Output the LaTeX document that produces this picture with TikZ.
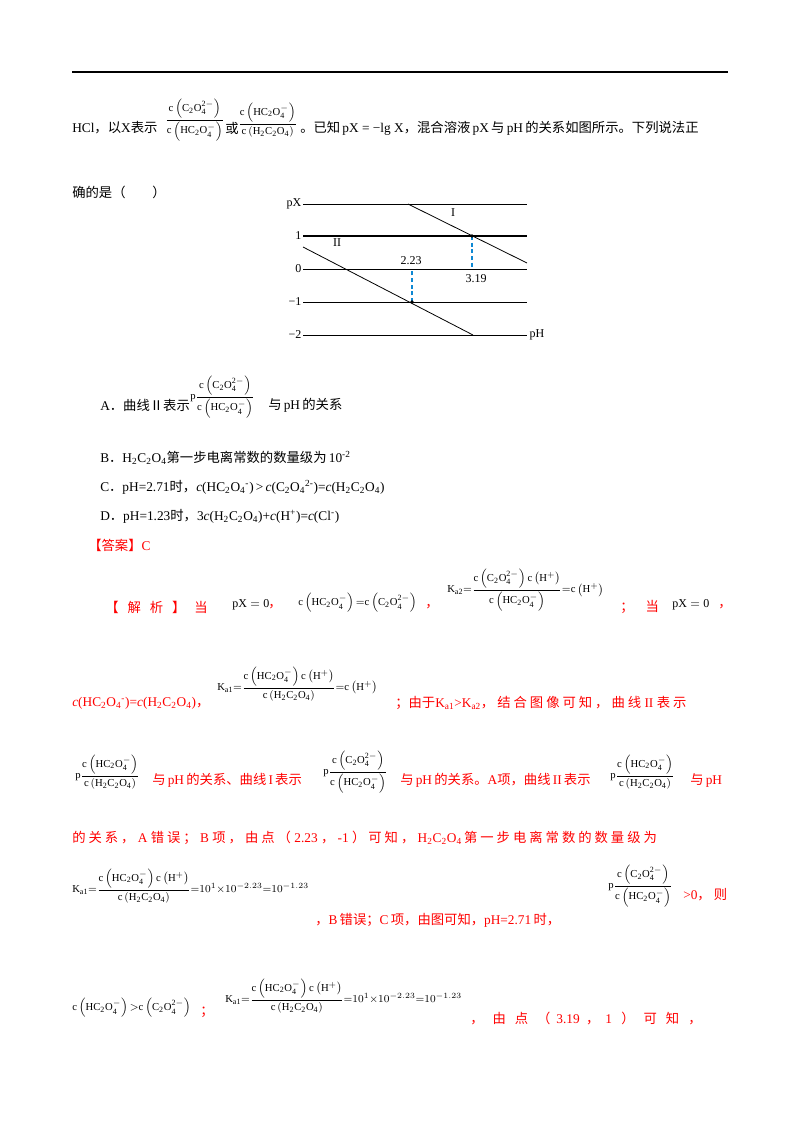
\documentclass[tikz,border=0pt]{standalone}
\usepackage{amsmath}
\usepackage{fontspec}
\setmainfont{Liberation Serif}
\newfontfamily\cjk{Noto Sans CJK SC}
\newcommand\fr[2]{$\dfrac{\mathrm{c}\left(\mathrm{#1}\right)}{\mathrm{c}\left(\mathrm{#2}\right)}$}
\newcommand\pfr[2]{$\mathrm{p}\dfrac{\mathrm{c}\left(\mathrm{#1}\right)}{\mathrm{c}\left(\mathrm{#2}\right)}$}
\newcommand\Kaone{$\mathrm{K_{a1}}{=}\dfrac{\mathrm{c}\left(\mathrm{HC_2O_4^-}\right)\mathrm{c}\left(\mathrm{H^+}\right)}{\mathrm{c}\left(\mathrm{H_2C_2O_4}\right)}$}
\begin{document}
\begin{tikzpicture}[x=0.75pt,y=-0.75pt,
  t/.style={anchor=west,inner sep=0pt,font=\fontsize{10}{12}\selectfont},
  f/.style={anchor=west,inner sep=0pt,font=\fontsize{8}{9}\selectfont},
  r/.style={t,text=red},
  ax/.style={line width=0.6pt},
  gl/.style={anchor=east,inner sep=1pt,font=\fontsize{9}{10}\selectfont},
  dsh/.style={cyan!70!blue,densely dashed,line width=0.8pt}]
\useasboundingbox (0,0) rectangle (800,1132);
\fill[white] (0,0) rectangle (800,1132);
\draw[line width=1pt] (72,72) -- (728,72);
% line 1
\node[t] (l1a) at (72,128) {HCl{\cjk ，以}X{\cjk 表示}};
\node[f] (l1b) at (165,120) {\fr{C_2O_4^{2-}}{HC_2O_4^-}};
\node[t] (l1c) at (225,128) {\cjk 或};
\node[f] (l1d) at (238,120) {\fr{HC_2O_4^-}{H_2C_2O_4}};
\node[t] (l1e) at (300,128) {{\cjk 。已知}\,pX = −lg X{\cjk ，混合溶液}\,pX\,{\cjk 与}\,pH\,{\cjk 的关系如图所示。下列说法正}};
\node[t] (l2) at (72,192) {\cjk 确的是（　　）};
% graph
\foreach \yy/\lab in {204/pX,236/1,269/0,302/−1,335/−2}{
  \draw[ax] (303,\yy) -- (527,\yy);
  \node[gl] at (303,\yy) {\lab};}
\draw[line width=1.2pt] (303,236) -- (527,236);
\node[anchor=west,inner sep=1pt,font=\fontsize{9}{10}\selectfont] (pH) at (528,335) {pH};
\coordinate (i1) at (408,204); \coordinate (i2) at (527,263);
\coordinate (ii1) at (303,247); \coordinate (ii2) at (473,335);
\draw[ax] (i1) -- (i2); \draw[ax] (ii1) -- (ii2);
\coordinate (p1) at (472,236); \coordinate (p2) at (412,302);
\coordinate (q1) at (472,269); \coordinate (q2) at (412,269);
\draw[dsh] (p1) -- (q1); \draw[dsh] (p2) -- (q2);
\fill (p1) circle (1.8); \fill (p2) circle (1.8);
\node[font=\fontsize{9}{10}\selectfont] at (411,261) {2.23};
\node[font=\fontsize{9}{10}\selectfont] at (476,279) {3.19};
\node[font=\fontsize{9}{10}\selectfont] at (453,213) {I};
\node[font=\fontsize{9}{10}\selectfont] at (337,243) {II};
% options
\node[t] (oa) at (100,405) {A{\cjk ．曲线Ⅱ表示}};
\node[f] (oaf) at (190,397) {\pfr{C_2O_4^{2-}}{HC_2O_4^-}};
\node[t] (oa2) at (268,405) {{\cjk 与}\,pH\,{\cjk 的关系}};
\node[t] (ob) at (100,458) {B{\cjk ．}H\textsubscript{2}C\textsubscript{2}O\textsubscript{4}{\cjk 第一步电离常数的数量级为}\,10\textsuperscript{-2}};
\node[t] (oc) at (100,487) {C{\cjk ．}pH=2.71{\cjk 时，}\textit{c}(HC\textsubscript{2}O\textsubscript{4}\textsuperscript{-})\,>\,\textit{c}(C\textsubscript{2}O\textsubscript{4}\textsuperscript{2-})=\textit{c}(H\textsubscript{2}C\textsubscript{2}O\textsubscript{4})};
\node[t] (od) at (100,516) {D{\cjk ．}pH=1.23{\cjk 时，}3\textit{c}(H\textsubscript{2}C\textsubscript{2}O\textsubscript{4})+\textit{c}(H\textsuperscript{+})=\textit{c}(Cl\textsuperscript{-})};
\node[r] (ans) at (88,545) {{\cjk 【答案】}C};
% analysis row 1
\node[r] (j1) at (105,607) {\cjk 【\ \ \ 解\ \ \ 析\ \ \ 】\ \ \ 当};
\node[f] (j2) at (232,605) {\fontsize{9}{10}\selectfont$\mathrm{pX=0}$};
\node[r] (j3) at (268,607) {\cjk ，};
\node[f] (j4) at (298,603) {$\mathrm{c\left(HC_2O_4^-\right){=}c\left(C_2O_4^{2-}\right)}$};
\node[r] (j5) at (425,607) {\cjk ，};
\node[f] (j6) at (447,590) {$\mathrm{K_{a2}}{=}\dfrac{\mathrm{c}\left(\mathrm{C_2O_4^{2-}}\right)\mathrm{c}\left(\mathrm{H^+}\right)}{\mathrm{c}\left(\mathrm{HC_2O_4^-}\right)}{=}\mathrm{c}\left(\mathrm{H^+}\right)$};
\node[r] (j7) at (620,607) {\cjk ；\ \ \ \ 当};
\node[f] (j8) at (672,605) {\fontsize{9}{10}\selectfont$\mathrm{pX=0}$};
\node[r] (j9) at (718,607) {\cjk ，};
% row 2
\node[r] (k1) at (72,703) {\textit{c}(HC\textsubscript{2}O\textsubscript{4}\textsuperscript{-})=\textit{c}(H\textsubscript{2}C\textsubscript{2}O\textsubscript{4}){\cjk ，}};
\node[f] (k2) at (217,684) {\Kaone${=}\mathrm{c}\left(\mathrm{H^+}\right)$};
\node[r] (k3) at (395,703) {{\cjk ；由于}K\textsubscript{a1}>K\textsubscript{a2}{\cjk ，\ 结\ 合\ 图\ 像\ 可\ 知\ ，\ 曲\ 线}\ II\ {\cjk 表\ 示}};
% row 3
\node[f] (m1) at (75,772) {\pfr{HC_2O_4^-}{H_2C_2O_4}};
\node[r] (m2) at (152,780) {{\cjk 与}\,pH\,{\cjk 的关系、曲线}\,I\,{\cjk 表示}};
\node[f] (m3) at (323,772) {\pfr{C_2O_4^{2-}}{HC_2O_4^-}};
\node[r] (m4) at (400,780) {{\cjk 与}\,pH\,{\cjk 的关系。}A{\cjk 项，曲线}\,II\,{\cjk 表示}};
\node[f] (m5) at (610,772) {\pfr{HC_2O_4^-}{H_2C_2O_4}};
\node[r] (m6) at (690,780) {{\cjk 与}\,pH};
% row 4
\node[r] (n1) at (72,838) {{\cjk 的\ 关\ 系\ ，}\ A\ {\cjk 错\ 误\ ；}\ B\ {\cjk 项\ ，\ 由\ 点\ （}\ 2.23\ {\cjk ，}\ -1\ {\cjk ）\ 可\ 知\ ，}\ H\textsubscript{2}C\textsubscript{2}O\textsubscript{4}\,{\cjk 第\ 一\ 步\ 电\ 离\ 常\ 数\ 的\ 数\ 量\ 级\ 为}};
% row 5
\node[f] (o1) at (72,886) {\Kaone${=}10^{1}{\times}10^{-2.23}{=}10^{-1.23}$};
\node[r] (o2) at (315,920) {{\cjk ，}B\,{\cjk 错误；}C\,{\cjk 项，由图可知，}pH=2.71\,{\cjk 时，}};
\node[f] (o3) at (608,886) {\pfr{C_2O_4^{2-}}{HC_2O_4^-}};
\node[r] (o4) at (683,895) {>0{\cjk ，\ 则}};
% row 6
\node[f] (s1) at (72,1008) {$\mathrm{c\left(HC_2O_4^-\right){>}c\left(C_2O_4^{2-}\right)}$};
\node[r] (s2) at (200,1012) {\cjk ；};
\node[f] (s3) at (225,996) {\Kaone${=}10^{1}{\times}10^{-2.23}{=}10^{-1.23}$};
\node[r] (s4) at (470,1018) {{\cjk ，\ \ \ 由\ \ \ 点\ \ \ （\ \ }3.19\ {\cjk \ ，\ \ }1\ {\cjk \ \ ）\ \ \ 可\ \ \ 知\ \ \ ，}};
\end{tikzpicture}
\end{document}
